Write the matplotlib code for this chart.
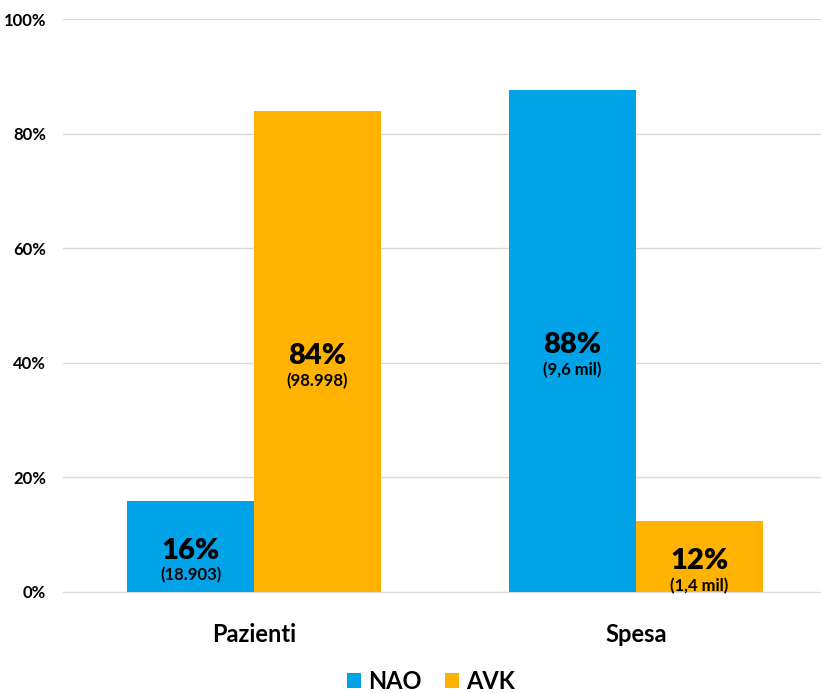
import matplotlib
matplotlib.use('Agg')
import matplotlib.pyplot as plt
import numpy as np

categories = ['Pazienti', 'Spesa']
nao_values = [15.9, 87.6]
avk_values = [83.9, 12.4]
nao_labels = ['16%', '88%']
avk_labels = ['84%', '12%']
nao_sub = ['(18.903)', '(9,6 mil)']
avk_sub = ['(98.998)', '(1,4 mil)']
y_ticks = [0, 20, 40, 60, 80, 100]

plt.rcParams['font.family'] = ['Lato', 'DejaVu Sans']
plt.rcParams['font.weight'] = 'bold'

blue = '#00A2E8'
orange = '#FFB300'

fig = plt.figure(figsize=(8.21, 6.93), dpi=100)
ax = fig.add_axes([63 / 821, 101 / 693, 764 / 821, 573 / 693])

x = np.arange(len(categories))
w = 127 / 382

bars_nao = ax.bar(x - w / 2, nao_values, w, color=blue, label='NAO', zorder=3)
bars_avk = ax.bar(x + w / 2, avk_values, w, color=orange, label='AVK', zorder=3)

for bars, vals, labs, subs in [(bars_nao, nao_values, nao_labels, nao_sub),
                               (bars_avk, avk_values, avk_labels, avk_sub)]:
    for b, v, lab, sub in zip(bars, vals, labs, subs):
        cx = b.get_x() + b.get_width() / 2
        ax.annotate(lab, (cx, v / 2), xytext=(0, -3), textcoords='offset points',
                    ha='center', va='center', fontsize=21, fontweight='heavy', zorder=4)
        ax.annotate(sub, (cx, v / 2), xytext=(0, -21), textcoords='offset points',
                    ha='center', va='center', fontsize=12, fontweight='bold', zorder=4)

ax.set_xlim(-0.5, 1.5)
ax.set_ylim(0, 100)
ax.set_yticks(y_ticks)
ax.set_yticklabels([f'{t}%' for t in y_ticks], fontsize=12, fontweight='bold')
ax.set_xticks(x)
ax.set_xticklabels(categories, fontsize=17, fontweight='bold')
ax.tick_params(axis='both', length=0)
ax.tick_params(axis='y', pad=12)
ax.tick_params(axis='x', pad=22)
ax.grid(axis='y', color='#D9D9D9', linewidth=1, zorder=0)
for s in ['top', 'right', 'left']:
    ax.spines[s].set_visible(False)
ax.spines['bottom'].set_color('#D9D9D9')

fig.legend(handles=[bars_nao, bars_avk], labels=['NAO', 'AVK'], loc='lower center',
           bbox_to_anchor=(0.525, -0.03), ncol=2, frameon=False, fontsize=17,
           handlelength=0.6, handleheight=0.6, handletextpad=0.3, columnspacing=1.0)

fig.savefig('out.png', dpi=100)
